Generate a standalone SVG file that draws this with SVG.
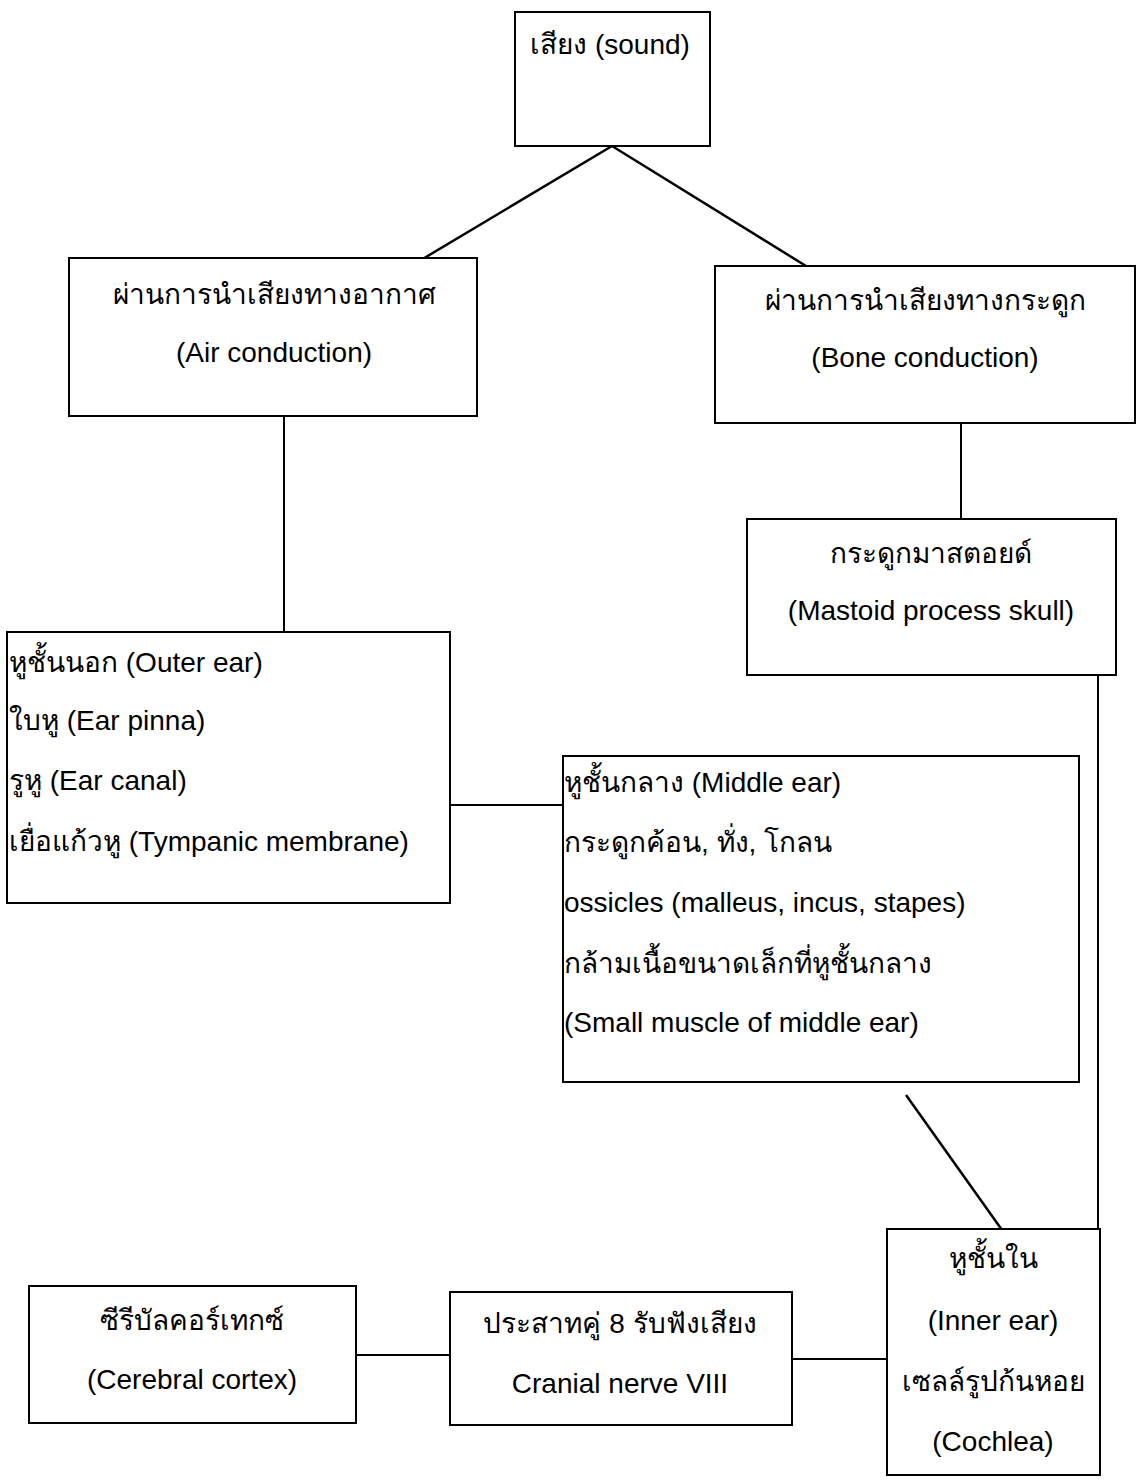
<svg xmlns="http://www.w3.org/2000/svg" width="1141" height="1480" viewBox="0 0 1141 1480">
<style>
.box{fill:#fff;stroke:#000;stroke-width:2}
.ln{stroke:#000;stroke-width:2;fill:none}
.dg{stroke:#000;stroke-width:2.5;fill:none}
text{font-family:"Liberation Sans","Noto Sans","DejaVu Sans",sans-serif;font-size:28px;fill:#000}
.c{text-anchor:middle}
</style>
<rect width="1141" height="1480" fill="#fff"/>
<g id="connectors">
<line class="dg" x1="612" y1="146" x2="421" y2="260"/>
<line class="dg" x1="612" y1="146" x2="806" y2="266"/>
<line class="ln" x1="284" y1="416" x2="284" y2="632"/>
<line class="ln" x1="961" y1="423" x2="961" y2="519"/>
<line class="ln" x1="1098" y1="675" x2="1098" y2="1230"/>
<line class="ln" x1="450" y1="805" x2="563" y2="805"/>
<line class="dg" x1="906" y1="1095" x2="1002" y2="1230"/>
<line class="ln" x1="356" y1="1355" x2="450" y2="1355"/>
<line class="ln" x1="792" y1="1359" x2="887" y2="1359"/>
</g>
<g id="sound">
<rect class="box" x="515" y="12" width="195" height="134"/>
<text class="c" x="610" y="54">เสียง (sound)</text>
</g>
<g id="air">
<rect class="box" x="69" y="258" width="408" height="158"/>
<text class="c" x="274" y="304">ผ่านการนำเสียงทางอากาศ</text>
<text class="c" x="274" y="362">(Air conduction)</text>
</g>
<g id="bone">
<rect class="box" x="715" y="266" width="420" height="157"/>
<text class="c" x="925" y="310">ผ่านการนำเสียงทางกระดูก</text>
<text class="c" x="925" y="367">(Bone conduction)</text>
</g>
<g id="mastoid">
<rect class="box" x="747" y="519" width="369" height="156"/>
<text class="c" x="931" y="563">กระดูกมาสตอยด์</text>
<text class="c" x="931" y="620">(Mastoid process skull)</text>
</g>
<g id="outer">
<rect class="box" x="7" y="632" width="443" height="271"/>
<text x="9" y="672">หูชั้นนอก (Outer ear)</text>
<text x="9" y="730">ใบหู (Ear pinna)</text>
<text x="9" y="790">รูหู (Ear canal)</text>
<text x="9" y="851">เยื่อแก้วหู (Tympanic membrane)</text>
</g>
<g id="middle">
<rect class="box" x="563" y="756" width="516" height="326"/>
<text x="564" y="792">หูชั้นกลาง (Middle ear)</text>
<text x="564" y="852">กระดูกค้อน, ทั่ง, โกลน</text>
<text x="564" y="912">ossicles (malleus, incus, stapes)</text>
<text x="564" y="973">กล้ามเนื้อขนาดเล็กที่หูชั้นกลาง</text>
<text x="564" y="1032">(Small muscle of middle ear)</text>
</g>
<g id="inner">
<rect class="box" x="887" y="1229" width="213" height="246"/>
<text class="c" x="993" y="1268">หูชั้นใน</text>
<text class="c" x="993" y="1330">(Inner ear)</text>
<text class="c" x="993" y="1391">เซลล์รูปก้นหอย</text>
<text class="c" x="993" y="1451">(Cochlea)</text>
</g>
<g id="nerve">
<rect class="box" x="450" y="1292" width="342" height="133"/>
<text class="c" x="620" y="1333">ประสาทคู่ 8 รับฟังเสียง</text>
<text class="c" x="620" y="1393">Cranial nerve VIII</text>
</g>
<g id="cortex">
<rect class="box" x="29" y="1286" width="327" height="137"/>
<text class="c" x="192" y="1330">ซีรีบัลคอร์เทกซ์</text>
<text class="c" x="192" y="1389">(Cerebral cortex)</text>
</g>
</svg>
